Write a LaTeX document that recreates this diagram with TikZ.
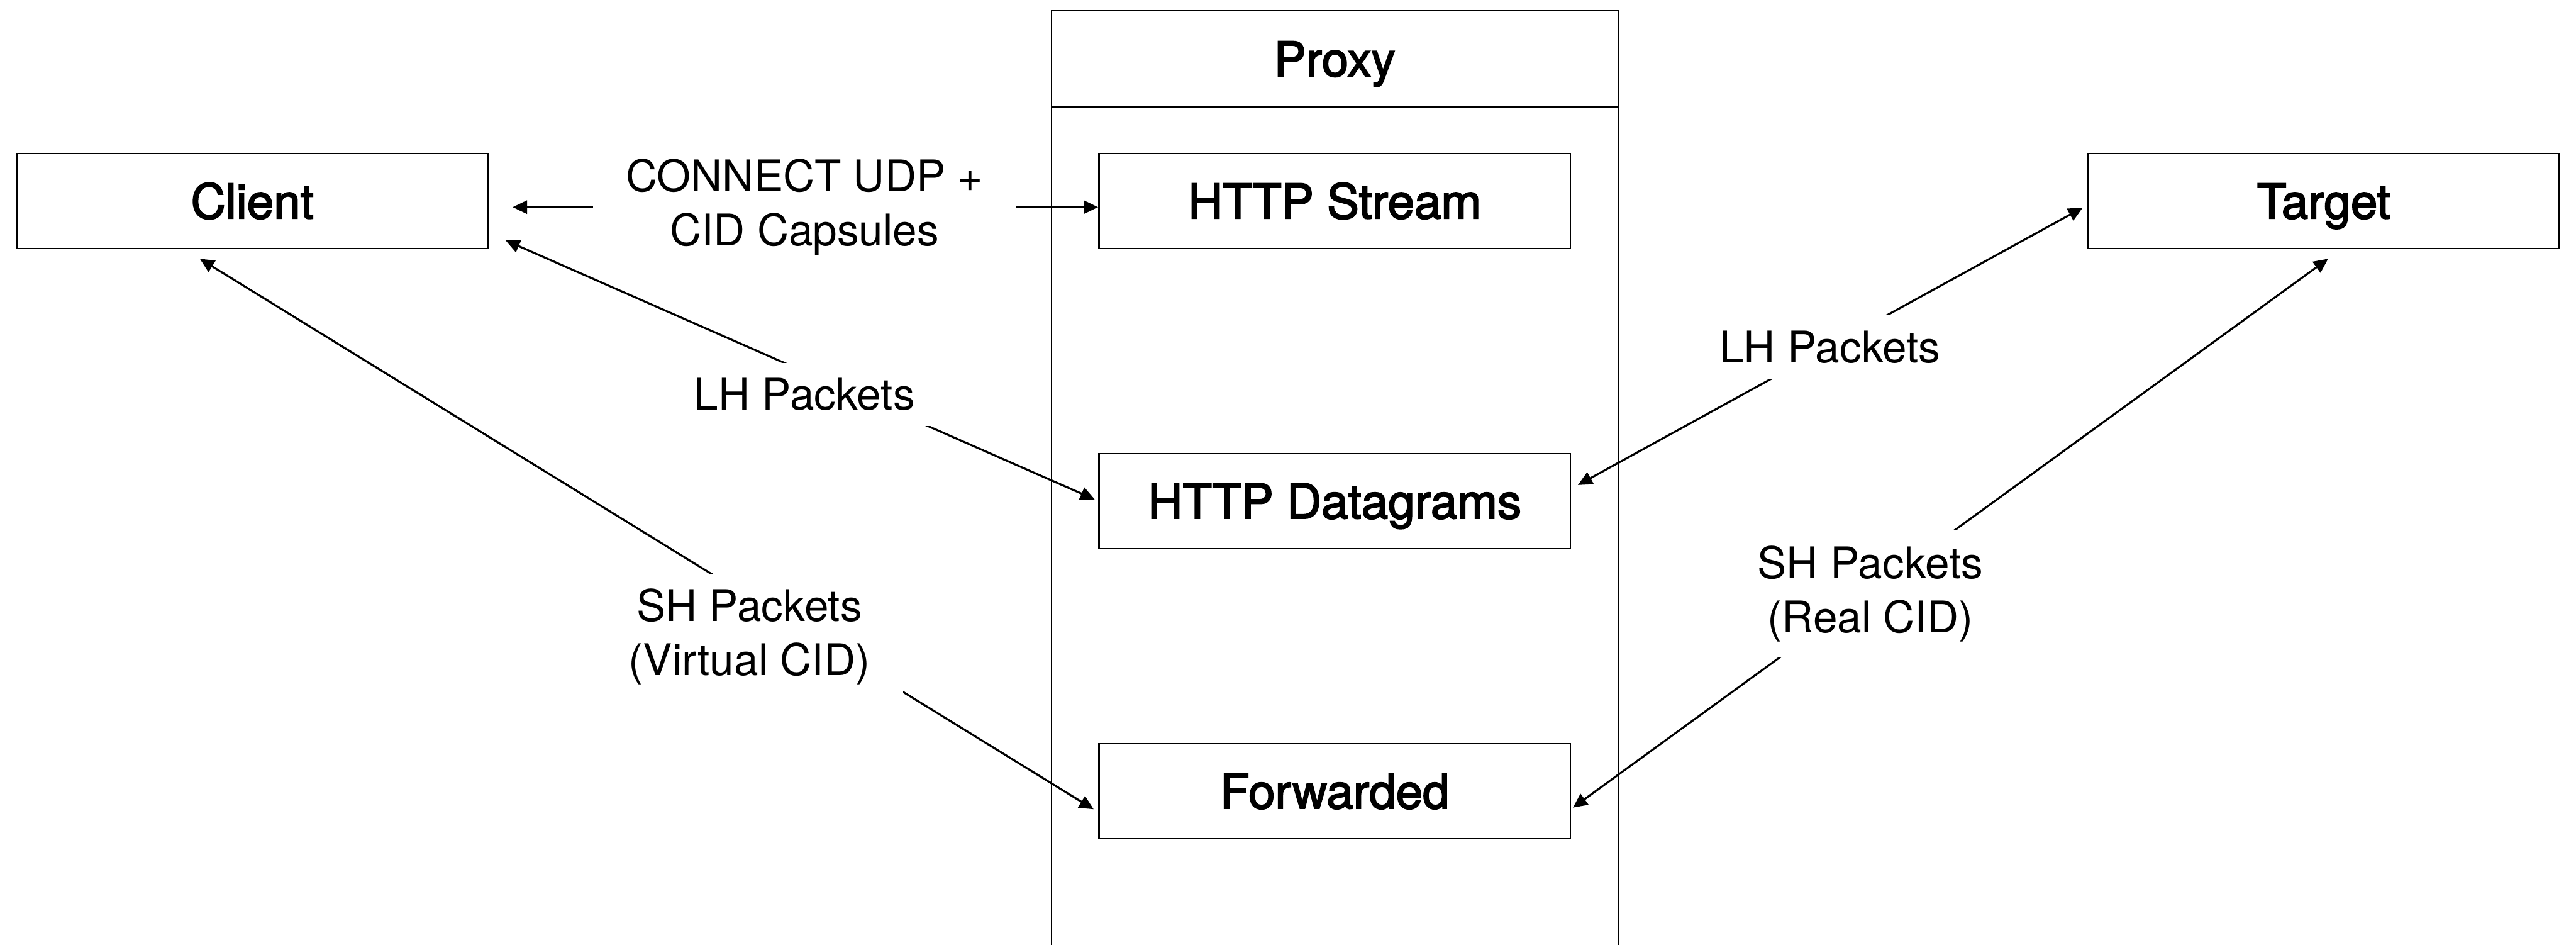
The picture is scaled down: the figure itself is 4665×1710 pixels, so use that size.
\documentclass[tikz,border=0pt]{standalone}
\usepackage{fontspec}
\setmainfont{TeX Gyre Heros}
\newfontfamily\boxfont[FakeBold=2.5]{TeX Gyre Heros}
\usetikzlibrary{arrows.meta,calc}

\begin{document}
\begin{tikzpicture}[x=1pt,y=-1pt,
  boxtext/.style={font=\boxfont\fontsize{87}{100}\selectfont,
    text height=63pt, text depth=0pt},
  box/.style={draw, line width=3pt, minimum width=854pt, minimum height=172pt,
    inner sep=0pt, boxtext},
  frame/.style={draw, line width=2.2pt, minimum width=1026pt, inner sep=0pt,
    anchor=north, boxtext},
  lbl/.style={fill=white, align=center, inner xsep=60pt, inner ysep=28pt,
    font=\fontsize{79}{98}\selectfont},
  link/.style={line width=3.6pt,
    {Triangle[length=26pt,width=24pt]}-{Triangle[length=26pt,width=24pt]}},
]
\useasboundingbox (0,0) rectangle (4665,1710);
\clip (0,0) rectangle (4665,1710);

% proxy container and its header
\node[frame, minimum height=1790pt] (proxy) at (2417,18) {};
\node[frame, minimum height=175pt] (proxyhead) at (2417,18) {Proxy};

% endpoints
\node[box] (client) at (457,364) {Client};
\node[box] (target) at (4208,364) {Target};

% proxy components
\node[box] (stream) at (2417,364) {HTTP Stream};
\node[box] (dgram) at (2417,907) {HTTP Datagrams};
\node[box] (fwd) at (2417,1432) {Forwarded};

% connectors
\draw[link] ($(client.east)+(43,11)$) -- ($(stream.west)+(0,11)$);
\draw[link] ($(client.east)+(30,71)$) -- ($(dgram.west)+(-6,-3)$);
\draw[link] ($(client.south)+(-95,17)$) -- ($(fwd.west)+(-8,33)$);
\draw[link] ($(dgram.east)+(12,-29)$) -- ($(target.west)+(-8,12)$);
\draw[link] ($(fwd.east)+(3,30)$) -- ($(target.south)+(8,17)$);

% connector labels
\node[lbl] (lconnect) at (1457,375) {CONNECT UDP +\\CID Capsules};
\node[lbl] (llhc) at (1457,714) {LH Packets};
\node[lbl] (lshc) at (1357,1153) {SH Packets\\(Virtual CID)};
\node[lbl] (llht) at (3314,628) {LH Packets};
\node[lbl] (lsht) at (3387,1075) {SH Packets\\(Real CID)};
\end{tikzpicture}
\end{document}
